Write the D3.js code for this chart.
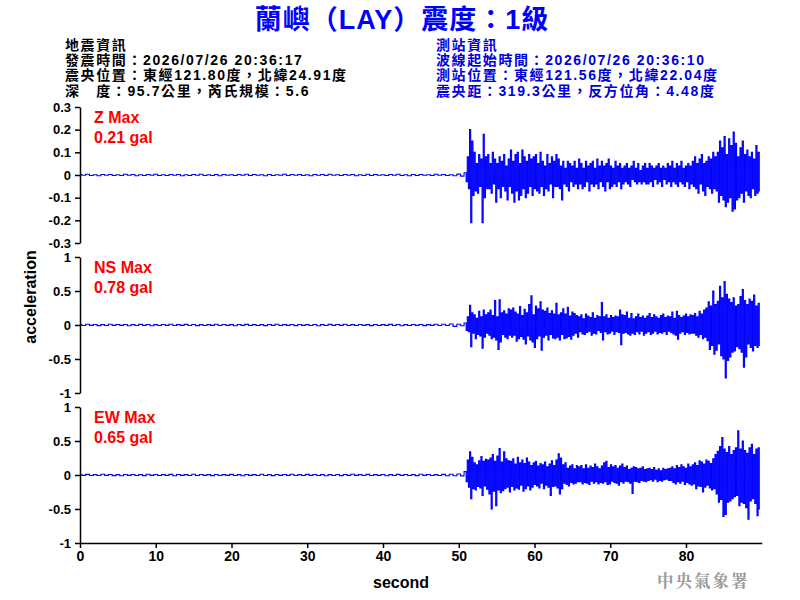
<!DOCTYPE html>
<html><head><meta charset="utf-8">
<script src="https://cdn.jsdelivr.net/npm/d3@7"></script>
<style>body{margin:0;background:#fff}</style>
</head><body><svg id="c" width="800" height="600"></svg>
<script>
const title = "蘭嶼（LAY）震度：1級";
const quakeInfo = ["地震資訊","發震時間：2026/07/26 20:36:17","震央位置：東經121.80度，北緯24.91度","深　度：95.7公里，芮氏規模：5.6"];
const stationInfo = ["測站資訊","波線起始時間：2026/07/26 20:36:10","測站位置：東經121.56度，北緯22.04度","震央距：319.3公里，反方位角：4.48度"];
const channels = ["Z Max","NS Max","EW Max"];
const maxLabels = ["0.21 gal","0.78 gal","0.65 gal"];
const yLimits = [0.3, 1, 1];
const zTicks = [0.3,0.2,0.1,0,-0.1,-0.2,-0.3];
const hTicks = [1,0.5,0,-0.5,-1];
const xTicks = [0,10,20,30,40,50,60,70,80];
const xDomain = [0,90];
const noiseStep = 0.5, waveStart = 50.9, waveStep = 0.15;

const zNoise = [0.002,-0.001,0.003,-0.002,0.001,-0.003,0.002,-0.001,0.002,-0.002,
0.001,-0.002,0.003,-0.001,0.002,-0.003,0.001,-0.002,0.002,-0.001,
0.003,-0.002,0.001,-0.002,0.002,-0.001,0.002,-0.003,0.001,-0.002,
0.002,-0.001,0.003,-0.002,0.001,-0.002,0.002,-0.003,0.002,-0.001,
0.001,-0.002,0.002,-0.001,0.003,-0.002,0.002,-0.001,0.001,-0.003,
0.002,-0.002,0.001,-0.001,0.003,-0.002,0.002,-0.001,0.002,-0.002,
0.001,-0.003,0.002,-0.001,0.002,-0.002,0.003,-0.001,0.001,-0.002,
0.002,-0.001,0.002,-0.003,0.001,-0.002,0.003,-0.002,0.002,-0.001,
0.001,-0.002,0.002,-0.001,0.003,-0.002,0.001,-0.003,0.002,-0.002,
0.002,-0.001,0.001,-0.002,0.003,-0.001,0.002,-0.002,0.001,-0.003,
0.004,-0.005];
const zWave = [0.01,-0.03,0.08,-0.06,0.20,-0.21,0.15,-0.09,0.10,-0.07,0.05,-0.08,0.09,-0.05,0.07,-0.21,0.18,-0.10,0.08,-0.06,
0.09,-0.06,0.05,-0.08,0.10,-0.04,0.07,-0.12,0.05,-0.06,0.08,-0.10,0.06,-0.05,0.09,-0.07,0.04,-0.11,0.07,-0.05,
0.11,-0.08,0.06,-0.12,0.09,-0.07,0.10,-0.11,0.05,-0.09,0.11,-0.06,0.08,-0.10,0.06,-0.08,0.09,-0.05,0.07,-0.09,
0.08,-0.06,0.09,-0.07,0.05,-0.08,0.10,-0.05,0.06,-0.09,0.04,-0.06,0.09,-0.07,0.05,-0.04,0.08,-0.10,0.06,-0.05,
0.09,-0.05,0.07,-0.06,0.04,-0.11,0.06,-0.04,0.03,-0.05,0.06,-0.07,0.05,-0.03,0.04,-0.05,0.06,-0.04,0.03,-0.06,
0.07,-0.04,0.05,-0.06,0.03,-0.05,0.06,-0.03,0.04,-0.07,0.05,-0.04,0.06,-0.05,0.03,-0.04,0.07,-0.06,0.04,-0.03,
0.06,-0.05,0.04,-0.07,0.05,-0.03,0.07,-0.06,0.04,-0.05,0.03,-0.04,0.06,-0.05,0.04,-0.03,0.05,-0.06,0.03,-0.04,
0.04,-0.03,0.05,-0.04,0.03,-0.05,0.04,-0.02,0.06,-0.03,0.03,-0.04,0.05,-0.03,0.02,-0.04,0.04,-0.03,0.05,-0.04,
0.03,-0.04,0.05,-0.03,0.04,-0.05,0.03,-0.02,0.04,-0.04,0.05,-0.03,0.03,-0.05,0.04,-0.02,0.03,-0.04,0.05,-0.03,
0.04,-0.05,0.06,-0.03,0.03,-0.04,0.05,-0.05,0.04,-0.03,0.06,-0.04,0.03,-0.05,0.04,-0.03,0.05,-0.06,0.04,-0.04,
0.06,-0.05,0.08,-0.06,0.05,-0.08,0.07,-0.04,0.09,-0.07,0.05,-0.09,0.06,-0.05,0.08,-0.06,0.07,-0.08,0.10,-0.06,
0.08,-0.07,0.10,-0.12,0.15,-0.09,0.12,-0.11,0.17,-0.14,0.09,-0.12,0.16,-0.10,0.13,-0.16,0.19,-0.15,0.14,-0.11,
0.08,-0.10,0.12,-0.08,0.15,-0.12,0.09,-0.07,0.11,-0.09,0.08,-0.10,0.10,-0.06,0.07,-0.09,0.13,-0.08,0.10,-0.07];

const nsNoise = [0.006,-0.008,0.010,-0.005,0.007,-0.009,0.006,-0.007,0.011,-0.006,
0.008,-0.005,0.007,-0.010,0.006,-0.008,0.009,-0.006,0.007,-0.011,
0.005,-0.007,0.008,-0.006,0.010,-0.008,0.006,-0.005,0.009,-0.007,
0.007,-0.009,0.006,-0.008,0.005,-0.006,0.010,-0.007,0.008,-0.006,
0.006,-0.010,0.007,-0.005,0.009,-0.008,0.006,-0.007,0.005,-0.009,
0.008,-0.006,0.011,-0.007,0.006,-0.005,0.007,-0.009,0.008,-0.006,
0.005,-0.008,0.007,-0.010,0.006,-0.007,0.009,-0.006,0.008,-0.005,
0.010,-0.007,0.006,-0.008,0.007,-0.006,0.005,-0.009,0.008,-0.007,
0.006,-0.005,0.009,-0.008,0.007,-0.010,0.006,-0.007,0.008,-0.006,
0.007,-0.009,0.005,-0.006,0.010,-0.008,0.012,-0.007,0.015,-0.020,
0.010,-0.012];
const nsWave = [0.03,-0.08,0.12,-0.10,0.29,-0.32,0.18,-0.12,0.15,-0.20,0.10,-0.14,0.20,-0.16,0.12,-0.34,0.22,-0.18,0.15,-0.12,
0.18,-0.15,0.22,-0.20,0.14,-0.18,0.36,-0.22,0.12,-0.36,0.37,-0.25,0.18,-0.14,0.21,-0.18,0.16,-0.20,0.24,-0.15,
0.22,-0.18,0.25,-0.15,0.19,-0.24,0.16,-0.20,0.27,-0.17,0.14,-0.21,0.23,-0.28,0.18,-0.16,0.30,-0.22,0.43,-0.25,
0.15,-0.33,0.28,-0.20,0.24,-0.16,0.34,-0.37,0.22,-0.18,0.20,-0.15,0.25,-0.22,0.17,-0.14,0.21,-0.19,0.16,-0.20,
0.32,-0.18,0.15,-0.22,0.18,-0.14,0.24,-0.20,0.16,-0.19,0.26,-0.17,0.13,-0.21,0.19,-0.15,0.17,-0.12,0.14,-0.18,
0.12,-0.10,0.15,-0.13,0.09,-0.14,0.16,-0.11,0.13,-0.09,0.11,-0.15,0.18,-0.12,0.10,-0.13,0.14,-0.08,0.12,-0.11,
0.33,-0.22,0.12,-0.10,0.15,-0.13,0.10,-0.12,0.14,-0.09,0.11,-0.14,0.13,-0.10,0.12,-0.11,0.22,-0.29,0.15,-0.12,
0.14,-0.11,0.19,-0.13,0.10,-0.15,0.17,-0.12,0.09,-0.14,0.12,-0.10,0.16,-0.13,0.11,-0.09,0.13,-0.15,0.10,-0.12,
0.13,-0.10,0.17,-0.14,0.11,-0.12,0.15,-0.09,0.12,-0.13,0.10,-0.11,0.14,-0.12,0.16,-0.10,0.11,-0.14,0.13,-0.09,
0.12,-0.11,0.19,-0.13,0.10,-0.15,0.20,-0.21,0.14,-0.12,0.11,-0.10,0.13,-0.14,0.16,-0.11,0.12,-0.13,0.15,-0.12,
0.14,-0.12,0.17,-0.15,0.12,-0.18,0.20,-0.14,0.16,-0.20,0.22,-0.18,0.25,-0.23,0.34,-0.36,0.28,-0.30,0.50,-0.43,
0.30,-0.37,0.35,-0.28,0.57,-0.45,0.40,-0.50,0.64,-0.78,0.45,-0.52,0.38,-0.47,0.33,-0.40,0.40,-0.38,0.28,-0.32,
0.30,-0.35,0.42,-0.40,0.52,-0.62,0.36,-0.47,0.30,-0.28,0.38,-0.33,0.35,-0.38,0.44,-0.30,0.28,-0.33,0.32,-0.30];

const ewNoise = [0.007,-0.006,0.009,-0.008,0.005,-0.007,0.010,-0.006,0.008,-0.009,
0.006,-0.010,0.007,-0.005,0.008,-0.007,0.006,-0.009,0.011,-0.006,
0.007,-0.008,0.005,-0.006,0.009,-0.010,0.007,-0.005,0.006,-0.008,
0.010,-0.007,0.008,-0.006,0.005,-0.009,0.007,-0.008,0.006,-0.005,
0.009,-0.007,0.006,-0.010,0.008,-0.006,0.005,-0.007,0.010,-0.008,
0.006,-0.009,0.007,-0.005,0.008,-0.006,0.011,-0.007,0.006,-0.008,
0.009,-0.005,0.007,-0.008,0.006,-0.010,0.005,-0.007,0.008,-0.009,
0.007,-0.006,0.010,-0.005,0.006,-0.008,0.009,-0.007,0.005,-0.006,
0.008,-0.010,0.006,-0.007,0.009,-0.005,0.007,-0.008,0.006,-0.009,
0.010,-0.006,0.007,-0.008,0.005,-0.007,0.009,-0.011,0.012,-0.010,
0.015,-0.013];
const ewWave = [0.05,-0.10,0.22,-0.18,0.34,-0.35,0.26,-0.20,0.18,-0.22,0.15,-0.17,0.21,-0.19,0.27,-0.30,0.20,-0.16,0.23,-0.21,
0.22,-0.28,0.25,-0.50,0.30,-0.24,0.20,-0.45,0.28,-0.22,0.39,-0.26,0.19,-0.23,0.34,-0.20,0.24,-0.18,0.21,-0.25,
0.20,-0.17,0.24,-0.22,0.16,-0.19,0.26,-0.21,0.18,-0.15,0.22,-0.24,0.17,-0.20,0.25,-0.16,0.19,-0.22,0.14,-0.18,
0.18,-0.14,0.20,-0.16,0.13,-0.19,0.17,-0.12,0.15,-0.20,0.19,-0.15,0.12,-0.18,0.16,-0.30,0.21,-0.17,0.14,-0.16,
0.22,-0.19,0.31,-0.28,0.25,-0.20,0.15,-0.12,0.18,-0.14,0.10,-0.16,0.13,-0.11,0.15,-0.13,0.09,-0.12,0.14,-0.10,
0.12,-0.10,0.14,-0.13,0.09,-0.11,0.15,-0.12,0.10,-0.14,0.13,-0.09,0.11,-0.12,0.16,-0.10,0.12,-0.13,0.09,-0.11,
0.13,-0.12,0.18,-0.10,0.20,-0.14,0.11,-0.13,0.15,-0.09,0.12,-0.11,0.14,-0.12,0.10,-0.15,0.13,-0.10,0.16,-0.12,
0.11,-0.09,0.13,-0.10,0.08,-0.12,0.10,-0.27,0.12,-0.09,0.11,-0.10,0.09,-0.11,0.10,-0.08,0.12,-0.09,0.08,-0.10,
0.09,-0.08,0.10,-0.07,0.08,-0.09,0.11,-0.06,0.07,-0.10,0.09,-0.08,0.06,-0.09,0.10,-0.07,0.08,-0.06,0.09,-0.08,
0.10,-0.08,0.12,-0.11,0.09,-0.13,0.14,-0.10,0.11,-0.12,0.15,-0.09,0.12,-0.14,0.10,-0.11,0.16,-0.13,0.12,-0.15,
0.15,-0.13,0.18,-0.20,0.14,-0.16,0.21,-0.17,0.19,-0.25,0.16,-0.18,0.22,-0.15,0.20,-0.19,0.17,-0.22,0.24,-0.20,
0.30,-0.28,0.35,-0.40,0.42,-0.36,0.55,-0.61,0.38,-0.58,0.33,-0.40,0.42,-0.38,0.30,-0.35,0.36,-0.32,0.40,-0.30,
0.65,-0.45,0.38,-0.40,0.50,-0.42,0.36,-0.48,0.32,-0.65,0.40,-0.38,0.45,-0.35,0.30,-0.42,0.38,-0.60,0.40,-0.50];

const noiseSets = [zNoise, nsNoise, ewNoise];
const waveSets = [zWave, nsWave, ewWave];
const tickSets = [zTicks, hTicks, hTicks];

const svg = d3.select("#c");
const FONT = "'Liberation Sans', Arial, 'Noto Sans CJK TC', sans-serif";
const left = 80, right = 761.75;
const panelTops = [107, 257, 407], panelH = 136;

const x = d3.scaleLinear().domain(xDomain).range([left, right]);

// title
svg.append("text").attr("x", 402).attr("y", 29).attr("text-anchor", "middle")
  .attr("font-family", FONT).attr("font-weight", "bold").attr("font-size", 27)
  .attr("letter-spacing", 1).attr("fill", "#0000ff").text(title);

// header blocks
function block(lines, x0, color) {
  svg.append("g").selectAll("text").data(lines).join("text")
    .attr("x", x0).attr("y", (d, i) => 50 + i * 15.2)
    .attr("font-family", FONT).attr("font-weight", "bold").attr("font-size", 14)
    .attr("letter-spacing", 1.6).attr("fill", color).text(d => d);
}
block(quakeInfo, 65, "#000");
block(stationInfo, 436, "#0000dd");

channels.forEach((ch, k) => {
  const y = d3.scaleLinear().domain([-yLimits[k], yLimits[k]])
    .range([panelTops[k] + panelH, panelTops[k]]);
  const pts = [];
  noiseSets[k].forEach((v, i) => pts.push([i * noiseStep, v]));
  waveSets[k].forEach((v, i) => pts.push([waveStart + i * waveStep, v]));
  const line = d3.line().x(d => x(d[0])).y(d => y(d[1])).curve(d3.curveStep);
  svg.append("path").datum(pts).attr("d", line)
    .attr("fill", "none").attr("stroke", "#0000ff").attr("stroke-width", 1.1);

  const ax = svg.append("g").attr("transform", `translate(${left},0)`)
    .call(d3.axisLeft(y).tickValues(tickSets[k]).tickSize(5).tickSizeOuter(0)
      .tickPadding(4).tickFormat(d => String(d)));
  ax.select(".domain").attr("stroke", "#000").attr("stroke-width", 1.5);
  ax.selectAll(".tick line").attr("stroke", "#000").attr("stroke-width", 1.5);
  ax.selectAll("text").attr("font-family", FONT).attr("font-weight", "bold")
    .attr("font-size", 13).attr("fill", "#000");

  svg.append("text").attr("x", 94).attr("y", panelTops[k] + 16)
    .attr("font-family", FONT).attr("font-weight", "bold").attr("font-size", 16)
    .attr("fill", "#ff0000").text(ch);
  svg.append("text").attr("x", 94).attr("y", panelTops[k] + 36)
    .attr("font-family", FONT).attr("font-weight", "bold").attr("font-size", 16)
    .attr("fill", "#ff0000").text(maxLabels[k]);
});

const xa = svg.append("g").attr("transform", `translate(0,${panelTops[2] + panelH})`)
  .call(d3.axisBottom(x).tickValues(xTicks).tickSize(5).tickSizeOuter(0).tickPadding(3)
    .tickFormat(d => String(d)));
xa.select(".domain").attr("stroke", "#000").attr("stroke-width", 1.5);
xa.selectAll(".tick line").attr("stroke", "#000").attr("stroke-width", 1.5);
xa.selectAll("text").attr("font-family", FONT).attr("font-weight", "bold")
  .attr("font-size", 14).attr("fill", "#000");

svg.append("text").attr("transform", "translate(36,297) rotate(-90)")
  .attr("text-anchor", "middle").attr("font-family", FONT).attr("font-weight", "bold")
  .attr("font-size", 16).attr("fill", "#000").text("acceleration");
svg.append("text").attr("x", 401).attr("y", 588).attr("text-anchor", "middle")
  .attr("font-family", FONT).attr("font-weight", "bold").attr("font-size", 16)
  .attr("fill", "#000").text("second");
svg.append("text").attr("x", 657).attr("y", 587)
  .attr("font-family", "'Noto Serif CJK TC','Noto Sans CJK TC', serif").attr("font-weight", "bold")
  .attr("font-size", 16.5).attr("letter-spacing", 2).attr("fill", "#9a9a9a").text("中央氣象署");
</script></body></html>
